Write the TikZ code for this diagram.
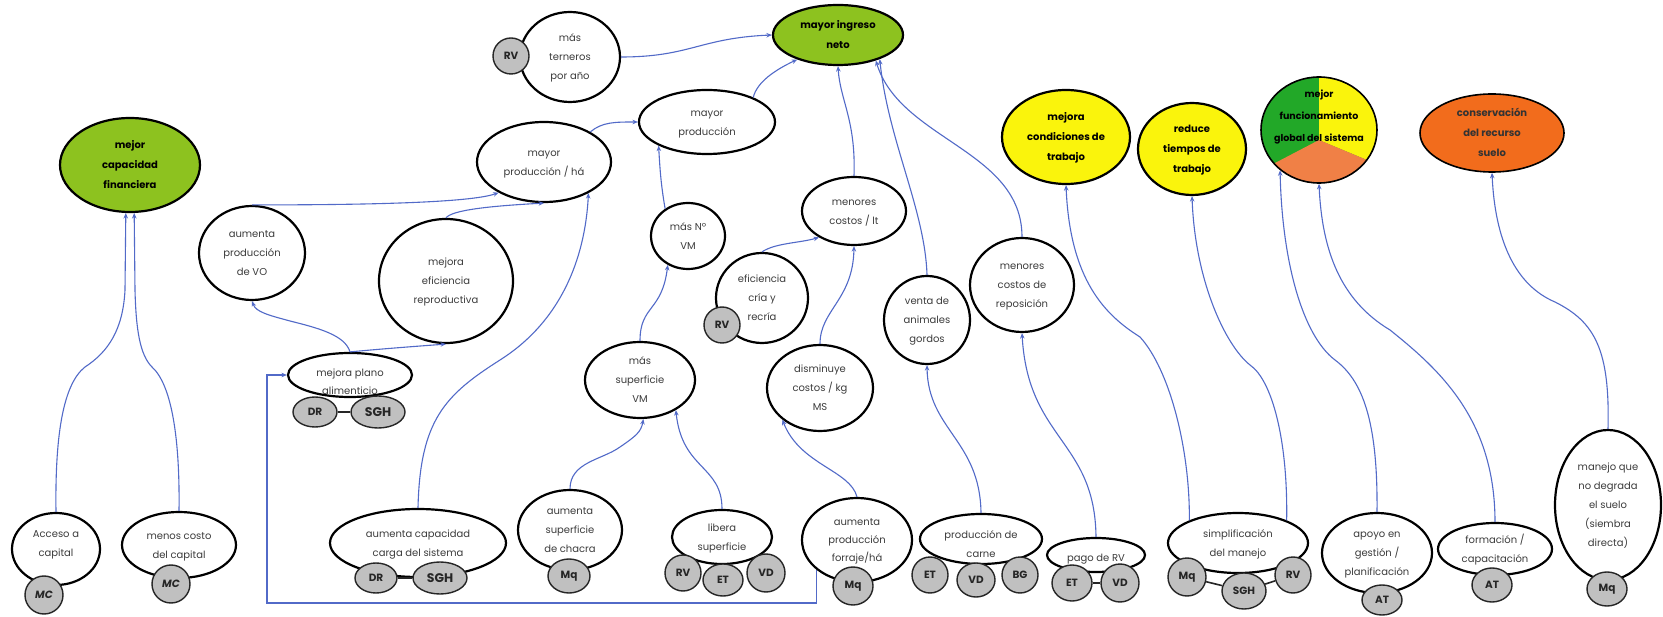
\documentclass[tikz,border=0pt]{standalone}
\usepackage{fontspec}
\setmainfont{Poppins}
\usetikzlibrary{shapes.geometric,arrows.meta}

\definecolor{goalgreen}{RGB}{141,194,31}
\definecolor{goalyellow}{RGB}{250,244,12}
\definecolor{goalorange}{RGB}{242,108,28}
\definecolor{piegreen}{RGB}{34,168,40}
\definecolor{pieorange}{RGB}{240,128,70}
\definecolor{tagfill}{RGB}{192,192,192}
\definecolor{linkblue}{RGB}{82,106,200}
\definecolor{bodytext}{RGB}{60,60,60}

% centred multi-line label that does not widen its ellipse
\newcommand\ctext[2][-2.5pt]{\smash{\raisebox{#1}{\makebox[0pt]{\begin{tabular}{@{}c@{}}#2\end{tabular}}}}}

\begin{document}
\begin{tikzpicture}[x=1pt, y=-1pt,
  ell/.style={ellipse, draw=black, line width=2.2pt, fill=white, inner sep=0pt,
    font=\fontsize{10}{19}\selectfont, text=bodytext},
  goal/.style={ell, font=\fontsize{10}{20}\bfseries\selectfont, text=black},
  sz/.style 2 args={minimum width=#1pt, minimum height=#2pt},
  tag/.style={ellipse, draw=black!85, line width=1.4pt, fill=tagfill, inner sep=0pt,
    font=\fontsize{10.5}{12}\bfseries\selectfont, text=black!85},
  bigtag/.style={tag, font=\fontsize{12.5}{14}\bfseries\selectfont},
  tie/.style={draw=black!85, line width=1.6pt},
  link/.style={draw=linkblue, line width=1.1pt, -{Stealth[length=5.5pt,width=4.5pt]}}]

\fill[white] (0,0) rectangle (1663,617);
\useasboundingbox (0,0) rectangle (1663,617);

% ---------- goals ----------
\node[goal, fill=goalgreen, sz={140}{94}] (capfin) at (130,165) {\ctext{mejor\\capacidad\\financiera}};
\node[goal, fill=goalgreen, sz={130}{60}] (ingreso) at (838,35) {\ctext{mayor ingreso\\neto}};
\node[goal, fill=goalyellow, sz={128}{94}] (condic) at (1066,137) {\ctext{mejora\\condiciones de\\trabajo}};
\node[goal, fill=goalyellow, sz={108}{92}] (tiempos) at (1192,149) {\ctext{reduce\\tiempos de\\trabajo}};

% three-colour disc behind the "global" goal
\begin{scope}
  \clip (1319,130) ellipse [x radius=58, y radius=53];
  \fill[piegreen] (1250,70) rectangle (1390,190);
  \fill[goalyellow] (1319,60) -- (1319,140) -- (1463,200) -- (1463,60) -- cycle;
  \fill[pieorange] (1319,140) -- (1187,209) -- (1187,300) -- (1463,300) -- (1463,200) -- cycle;
\end{scope}
\node[goal, fill=none, line width=1.6pt, sz={116}{106}, font=\fontsize{9.5}{22}\bfseries\selectfont] (global) at (1319,130) {\ctext[12.5pt]{mejor\\funcionamiento\\global del sistema}};
\node[goal, fill=goalorange, line width=1.6pt, sz={144}{78}, text=black!80] (suelo) at (1492,133) {\ctext{conservación\\del recurso\\suelo}};

% ---------- intermediate effects ----------
\node[ell, sz={100}{90}] (terneros) at (570,57) {\ctext{más\\terneros\\por año}};
\node[ell, sz={136}{64}] (prod) at (707,122) {\ctext{mayor\\producción}};
\node[ell, sz={134}{80}] (prodha) at (544,162) {\ctext{mayor\\producción / há}};
\node[ell, sz={74}{66}] (nvm) at (688,236) {\ctext{más Nº\\VM}};
\node[ell, sz={106}{94}] (vo) at (252,253) {\ctext{aumenta\\producción\\de VO}};
\node[ell, sz={134}{124}] (efrep) at (446,281) {\ctext{mejora\\eficiencia\\reproductiva}};
\node[ell, sz={124}{44}, font=\fontsize{10}{18}\selectfont] (plano) at (350,375) {\ctext[-9pt]{mejora plano\\alimenticio}};
\node[ell, sz={104}{68}] (costlt) at (854,211) {\ctext{menores\\costos / lt}};
\node[ell, sz={92}{90}] (efcria) at (762,298) {\ctext{eficiencia\\cría y\\recría}};
\node[ell, sz={110}{76}] (supvm) at (640,380) {\ctext{más\\superficie\\VM}};
\node[ell, sz={106}{86}] (costkg) at (820,388) {\ctext{disminuye\\costos / kg\\MS}};
\node[ell, sz={86}{88}] (venta) at (927,320) {\ctext{venta de\\animales\\gordos}};
\node[ell, sz={104}{94}] (repos) at (1022,285) {\ctext{menores\\costos de\\reposición}};

% ---------- practices ----------
\node[ell, sz={88}{72}] (acceso) at (56,549) {\ctext[3.5pt]{Acceso a\\capital}};
\node[ell, sz={114}{66}] (menoscosto) at (179,545) {\ctext{menos costo\\del capital}};
\node[ell, sz={176}{68}] (capcarga) at (418,543) {\ctext{aumenta capacidad\\carga del sistema}};
\node[ell, sz={104}{80}] (chacra) at (570,530) {\ctext{aumenta\\superficie\\de chacra}};
\node[ell, sz={100}{54}] (libera) at (722,537) {\ctext{libera\\superficie}};
\node[ell, sz={110}{84}, font=\fontsize{10}{18}\selectfont] (forraje) at (857,540) {\ctext{aumenta\\producción\\forraje/há}};
\node[ell, sz={122}{50}] (carne) at (981,539) {\ctext[-8pt]{producción de\\carne}};
\node[ell, sz={98}{34}] (pago) at (1096,555) {\ctext[-5pt]{pago de RV}};
\node[ell, sz={140}{60}] (simpl) at (1238,543) {\ctext{simplificación\\del manejo}};
\node[ell, sz={110}{80}] (apoyo) at (1377,553) {\ctext{apoyo en\\gestión /\\planificación}};
\node[ell, sz={114}{52}] (formac) at (1495,549) {\ctext{formación /\\capacitación}};
\node[ell, sz={106}{150}] (manejo) at (1608,505) {\ctext{manejo que\\no degrada\\el suelo\\(siembra\\directa)}};

% ---------- actor tags ----------
\node[tag, sz={36}{36}] (ternerosRV) at (511,56) {RV};
\node[tag, sz={44}{30}] (planoDR) at (315,412) {DR};
\node[bigtag, sz={54}{32}] (planoSGH) at (378,412) {SGH};
\node[tag, sz={36}{36}] (efcriaRV) at (722,325) {RV};
\node[tag, sz={38}{38}] (accesoMC) at (44,595) {\itshape MC};
\node[tag, sz={38}{38}] (menoscostoMC) at (171,584) {\itshape MC};
\node[tag, sz={42}{30}] (capcargaDR) at (376,578) {DR};
\node[bigtag, sz={54}{32}] (capcargaSGH) at (440,578) {SGH};
\node[tag, sz={42}{34}] (chacraMq) at (569,576) {Mq};
\node[tag, sz={36}{36}] (liberaRV) at (683,573) {RV};
\node[tag, sz={40}{32}] (liberaET) at (723,580) {ET};
\node[tag, sz={38}{38}] (liberaVD) at (766,573) {VD};
\node[tag, sz={40}{38}] (forrajeMq) at (853,586) {Mq};
\node[tag, sz={36}{36}] (carneET) at (930,575) {ET};
\node[tag, sz={38}{34}] (carneVD) at (976,580) {VD};
\node[tag, sz={36}{36}] (carneBG) at (1020,575) {BG};
\node[tag, sz={40}{36}] (pagoET) at (1072,583) {ET};
\node[tag, sz={38}{38}] (pagoVD) at (1120,583) {VD};
\node[tag, sz={38}{38}] (simplMq) at (1187,577) {Mq};
\node[tag, sz={44}{36}] (simplSGH) at (1244,591) {SGH};
\node[tag, sz={36}{36}] (simplRV) at (1293,575) {RV};
\node[tag, sz={40}{30}] (apoyoAT) at (1382,600) {AT};
\node[tag, sz={40}{34}] (formacAT) at (1492,585) {AT};
\node[tag, sz={40}{34}] (manejoMq) at (1607,589) {Mq};

\draw[tie] (planoDR) -- (planoSGH);
\draw[tie] (capcargaDR) -- (capcargaSGH);
\draw[tie] (pagoET) -- (pagoVD);
\draw[tie] (simplMq) -- (simplSGH);
\draw[tie] (simplSGH) -- (simplRV);

% ---------- links ----------
\draw[link] (acceso.north) .. controls (55,440) and (62,385) .. (85,367)
  .. controls (108,352) and (123,330) .. (125,290) -- (capfin.265);
\draw[link] (menoscosto.north) .. controls (180,440) and (172,385) .. (152,367)
  .. controls (140,355) and (136,330) .. (135,290) -- (capfin.275);

\draw[link] (vo.north) .. controls (360,205) and (470,203) .. (prodha.214);
\draw[link] (efrep.north) .. controls (452,210) and (490,206) .. (prodha.south);
\draw[link] (plano.north) .. controls (345,335) and (318,328) .. (290,321)
  .. controls (268,315) and (256,312) .. (vo.south);
\draw[link] (plano.north) .. controls (380,349) and (420,346) .. (efrep.south);
\coordinate (loopcorner) at (267,603);
\draw[link] (forraje.216) |- (loopcorner) |- (plano.west);

\draw[link] (capcarga.north) .. controls (420,420) and (445,395) .. (500,360)
  .. controls (560,322) and (585,260) .. (prodha.325);
\draw[link] (chacra.north) .. controls (570,462) and (602,460) .. (620,447)
  .. controls (636,436) and (641,432) .. (supvm.275);
\draw[link] (libera.north) .. controls (722,465) and (682,470) .. (supvm.320);
\draw[link] (supvm.north) .. controls (640,305) and (662,312) .. (nvm.235);
\draw[link] (nvm.130) .. controls (661,185) and (660,170) .. (prod.206);
\draw[link] (prodha.33) .. controls (602,122) and (615,122) .. (prod.west);
\draw[link] (prod.28) .. controls (757,82) and (775,70) .. (ingreso.211);
\draw[link] (terneros.east) .. controls (690,57) and (700,38) .. (ingreso.west);

\draw[link] (costlt.north) .. controls (856,120) and (840,100) .. (ingreso.south);
\draw[link] (efcria.north) .. controls (775,243) and (800,243) .. (costlt.217);
\draw[link] (costkg.north) .. controls (820,310) and (853,300) .. (costlt.south);
\draw[link] (forraje.north) .. controls (850,470) and (800,465) .. (costkg.220);
\draw[link] (carne.north) .. controls (980,440) and (928,430) .. (venta.south);
\draw[link] (pago.north) .. controls (1095,440) and (1028,440) .. (repos.south);
\draw[link] (venta.north) .. controls (925,210) and (888,140) .. (ingreso.330);
\draw[link] (repos.north) .. controls (1022,150) and (900,140) .. (ingreso.326);

\draw[link] (simpl.155) .. controls (1190,450) and (1170,370) .. (1140,337)
  .. controls (1105,315) and (1070,280) .. (condic.south);
\draw[link] (simpl.25) .. controls (1288,440) and (1272,380) .. (1250,365)
  .. controls (1225,345) and (1195,280) .. (tiempos.south);
\draw[link] (apoyo.north) .. controls (1378,420) and (1362,380) .. (1335,360)
  .. controls (1302,335) and (1282,260) .. (global.226);
\draw[link] (formac.north) .. controls (1495,420) and (1440,370) .. (1390,330)
  .. controls (1340,300) and (1322,250) .. (global.south);
\draw[link] (manejo.north) .. controls (1610,350) and (1595,322) .. (1555,302)
  .. controls (1515,285) and (1495,240) .. (suelo.south);

\end{tikzpicture}
\end{document}
